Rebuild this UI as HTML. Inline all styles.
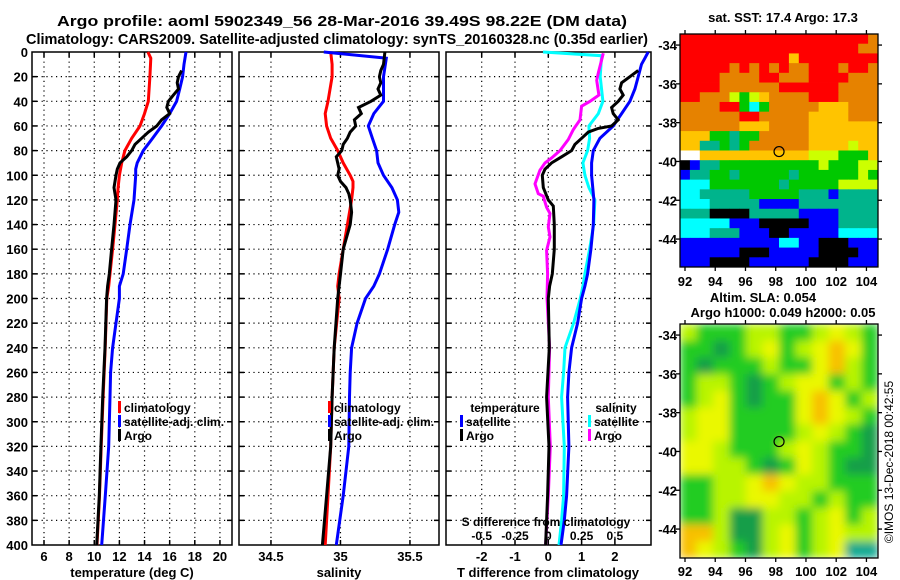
<!DOCTYPE html>
<html><head><meta charset="utf-8">
<style>
html,body{margin:0;padding:0;background:#fff;}
svg{display:block;font-family:"Liberation Sans",Arial,sans-serif;font-weight:bold;}
</style></head>
<body>
<svg id="chart" width="900" height="580" viewBox="0 0 900 580" xmlns="http://www.w3.org/2000/svg">
<defs>
<filter id="blur" x="0" y="0" width="1" height="1"><feGaussianBlur stdDeviation="4.5" edgeMode="duplicate"/></filter>
<clipPath id="clip2"><rect x="680" y="324" width="198" height="234"/></clipPath>
</defs>
<text x="57" y="26" font-size="15" textLength="570" lengthAdjust="spacingAndGlyphs">Argo profile: aoml 5902349_56 28-Mar-2016 39.49S 98.22E (DM data)</text>
<text x="26" y="44" font-size="15" textLength="622" lengthAdjust="spacingAndGlyphs">Climatology: CARS2009. Satellite-adjusted climatology: synTS_20160328.nc (0.35d earlier)</text>
<g id="g"></g>
</svg>
<script>
// ---- profile data ----
const depthTicks=[0,20,40,60,80,100,120,140,160,180,200,220,240,260,280,300,320,340,360,380,400];
const tempTicks=[6,8,10,12,14,16,18,20];
const salTicks=[34.5,35,35.5];
const diffTicks=[-2,-1,0,1,2];
const sdiffTicks=[-0.5,-0.25,0,0.25,0.5];
const sdiffLabels=["-0.5","-0.25","0","0.25","0.5"];

const climTdepth=[0,5,20,40,50,60,70,80,90,100,110,120,140,160,180,190,200,240,280,320,360,400];
const climT=[14.27,14.5,14.43,14.3,14.0,13.64,12.98,12.44,12.18,12.0,11.9,11.83,11.65,11.46,11.25,11.15,11.0,10.87,10.7,10.55,10.42,10.22];
const satTdepth=[0,10,20,30,40,50,60,70,80,90,95,100,120,140,160,180,190,200,220,240,260,280,320,360,400];
const satT=[17.3,17.14,17.03,16.8,16.55,16.0,15.36,14.64,13.9,13.42,13.3,13.3,13.16,12.84,12.58,12.3,12.0,12.0,11.73,11.46,11.3,11.25,11.15,10.88,10.59];
const argoTdepth=[15,20,25,30,35,40,45,50,55,60,65,70,75,80,85,90,95,100,110,120,140,160,180,190,200,240,280,320,360,400];
const argoT=[16.95,16.7,16.6,16.7,16.3,15.9,15.77,16.0,15.36,14.97,14.3,13.77,13.24,12.98,12.58,12.05,11.83,11.73,11.57,11.73,11.57,11.38,11.2,11.06,10.98,10.85,10.67,10.53,10.4,10.19];

const climSdepth=[0,10,20,40,50,60,70,80,90,100,105,110,120,140,160,180,190,200,240,280,320,360,400];
const climS=[34.93,34.94,34.94,34.91,34.89,34.90,34.93,34.98,35.02,35.07,35.09,35.09,35.08,35.05,35.02,34.99,34.98,34.99,34.955,34.94,34.93,34.91,34.89];
const satSdepth=[0,5,20,40,50,60,70,80,90,100,110,120,130,140,160,180,190,200,220,240,260,280,320,360,400];
const satS=[34.88,35.33,35.31,35.31,35.24,35.2,35.23,35.26,35.27,35.31,35.37,35.41,35.42,35.39,35.34,35.28,35.24,35.18,35.12,35.08,35.07,35.065,35.06,35.02,34.97];
const argoSdepth=[0,10,15,20,25,30,35,40,45,50,55,60,65,70,75,80,85,90,95,100,105,110,115,120,130,140,160,180,190,200,240,280,320,360,400];
const argoS=[35.32,35.31,35.29,35.28,35.29,35.27,35.29,35.22,35.13,35.15,35.1,35.11,35.07,35.05,35.02,35.01,34.97,34.98,34.99,34.98,35.0,35.04,35.06,35.07,35.08,35.07,35.02,35.0,34.99,34.98,34.955,34.94,34.93,34.9,34.87];

const satTdiffDepth=[0,5,10,20,30,40,50,60,70,80,90,100,120,140,160,180,190,200,220,240,260,280,320,360,380,400];
const satTdiff=[3.0,2.9,2.8,2.7,2.6,2.45,2.2,1.95,1.55,1.35,1.3,1.3,1.37,1.35,1.28,1.18,1.1,1.0,0.88,0.7,0.62,0.58,0.62,0.55,0.48,0.38];
const argoTdiffDepth=[15,20,25,30,35,40,45,50,55,60,62,65,70,75,80,85,90,95,100,110,120,125,140,160,180,190,200,240,280,320,360,400];
const argoTdiff=[2.7,2.45,2.2,2.15,2.25,2.1,1.9,1.95,2.1,1.9,1.5,1.2,1.0,0.8,0.7,0.4,0.1,-0.1,-0.18,-0.15,0,0.15,0.18,0.18,0.12,0.04,0.0,0.03,-0.05,0.02,-0.02,-0.08];
const satSdiffDepth=[0,3,20,40,50,60,70,80,90,100,110,120,140,160,180,190,200,220,240,260,280,320,360,380,400];
const satSdiff=[-0.04,0.4,0.39,0.41,0.375,0.305,0.31,0.295,0.26,0.275,0.305,0.35,0.34,0.31,0.275,0.26,0.24,0.19,0.125,0.115,0.1,0.12,0.115,0.1,0.08];
const argoSdiffDepth=[1,17,23,35,40,44,55,63,71,80,86,90,96,107,115,117,126,131,142,150,161,180,199,240,280,320,360,400];
const argoSdiff=[0.413,0.375,0.363,0.38,0.313,0.25,0.238,0.188,0.15,0.088,0.025,-0.025,-0.063,-0.1,-0.075,-0.038,-0.013,0.013,0,0.013,-0.013,-0.005,-0.01,0.01,0.0,0.015,0.0,-0.02];

// ---- map data ----
const lonTicks=[92,94,96,98,100,102,104];
const latTicks=[-34,-36,-38,-40,-42,-44];
const argoLon=98.22, argoLat=-39.49;
const sstRows=[
"RRRRRRRRRRRRRRRRRRRO",
"RRRRRRRRRRRRRRRRRROO",
"RRRRRRRRRRRYRRRRRRRR",
"RRRRROROROROORRRORRO",
"RRRROOOORROOORRRROOO",
"RRRROOOOOORRRRRROOOO",
"RROOOLGLYOOOORRROOOO",
"OOOORRGCGOOOOOYYYOOO",
"OOOOOORROOOOOYYYYOOO",
"OOOOOOYYYOOOOYYYYYYY",
"YYYGGTGGOOOOOYYYYYYY",
"YYTTGTGOOOOOOYYYYLYY",
"WWYYYYYYYYYYYLLLGGGY",
"KBTTGGGGGGGGGGLGGGLL",
"BTTGGTGGGGGTGGGGGGLG",
"CCCGGGGGGGTGGGGGLLLL",
"CCTTTTTGGGGGTTTBTTTT",
"CCCTTTTTBBBBTTTTTTTT",
"TTTKKKKTTTTTBBBBTTTT",
"CCCCCBBBKKKKKBBBTTTT",
"CCCTTTBBBKKBBBBBCCCC",
"BBBBBBBBBBCCBBKKKBBB",
"BBBBBBKKKBBBBBKKKKBB",
"BBBKKKKBBBBBBKKKKBBB"];
const slaRows=[
"LGGGLLGGLYLG",
"GGDGLYGLYOYG",
"GDGGGLGGYOLG",
"GLLGDGLYYGLG",
"GLYGDGGYOYGL",
"LYYGGGGYOYLG",
"LYYGGGGLYLGD",
"YYLGGGLYLGGD",
"YYLLGDGYLGDD",
"GGLLYOYLLGGG",
"GGLLYYLLGLGG",
"GGLDDLLGLYGL",
"OOLDDLYGLYLL",
"OYLGDLYGLYTT"];

const NS='http://www.w3.org/2000/svg';
const G=document.getElementById('g');
function mk(tag,attrs,parent){const e=document.createElementNS(NS,tag);for(const k in attrs)e.setAttribute(k,attrs[k]);(parent||G).appendChild(e);return e;}
function txt(s,x,y,size,anchor,parent){const t=mk('text',{x:x,y:y,'font-size':size,'text-anchor':anchor||'start'},parent);t.textContent=s;return t;}

const Y0=52,Y1=545;
const yDepth=d=>Y0+d*(Y1-Y0)/400;

function panel(name,px0,px1,vmin,vmax,gridVals){
  const g=mk('g',{});
  
  
  const sx=v=>px0+(v-vmin)*(px1-px0)/(vmax-vmin);
  gridVals.forEach(v=>{const l=mk('line',{x1:sx(v),x2:sx(v),y1:Y0,y2:Y1,stroke:'#000','stroke-width':1.2,'stroke-dasharray':'1.2 3.6'},g);});
  depthTicks.forEach(d=>{if(d===0||d===400)return;const l=mk('line',{x1:px0,x2:px1,y1:yDepth(d),y2:yDepth(d),stroke:'#000','stroke-width':1.2,'stroke-dasharray':'1.2 3.6'},g);
    mk('line',{x1:px0,x2:px0+5,y1:yDepth(d),y2:yDepth(d),stroke:'#000','stroke-width':1.5},g);
    mk('line',{x1:px1-5,x2:px1,y1:yDepth(d),y2:yDepth(d),stroke:'#000','stroke-width':1.5},g);});
  gridVals.forEach(v=>{mk('line',{x1:sx(v),x2:sx(v),y1:Y1-5,y2:Y1,stroke:'#000','stroke-width':1.5},g);mk('line',{x1:sx(v),x2:sx(v),y1:Y0,y2:Y0+5,stroke:'#000','stroke-width':1.5},g);});
  const f=mk('rect',{x:px0,y:Y0,width:px1-px0,height:Y1-Y0,fill:'none',stroke:'#000','stroke-width':1.5},g);
  
  return {g,sx};
}
function line(p,name,depths,vals,color,scale){
  const pts=depths.map((d,i)=>(p.sx(vals[i]*(scale||1))).toFixed(1)+','+yDepth(d).toFixed(1)).join(' ');
  const l=mk('polyline',{points:pts,fill:'none',stroke:color,'stroke-width':3,'stroke-linejoin':'miter'},p.g);
  
  
}
function legendEntry(p,name,x,y,color,label){
  const g=mk('g',{},p.g);
  
  
  mk('rect',{x:x,y:y-11,width:3,height:12,fill:color},g);
  txt(label,x+6,y,12,'start',g);
}

const ya=mk('g',{});


depthTicks.forEach(d=>txt(String(d),28,yDepth(d)+5,13,'end',ya));

const p1=panel('temperature-panel',32,232,5.045,20.96,tempTicks);
line(p1,'climatology-temperature-line',climTdepth,climT,'#ff0000');
line(p1,'satellite-temperature-line',satTdepth,satT,'#0000ff');
line(p1,'argo-temperature-line',argoTdepth,argoT,'#000000');
tempTicks.forEach(v=>txt(String(v),p1.sx(v),561,13,'middle',p1.g));
txt('temperature (deg C)',132,577,13,'middle',p1.g);
legendEntry(p1,'legend-climatology',118,412,'#ff0000','climatology');
legendEntry(p1,'legend-satellite-adj',118,426,'#0000ff','satellite-adj. clim.');
legendEntry(p1,'legend-argo',118,440,'#000000','Argo');

const p2=panel('salinity-panel',239,439,34.27,35.709,salTicks);
line(p2,'climatology-salinity-line',climSdepth,climS,'#ff0000');
line(p2,'satellite-salinity-line',satSdepth,satS,'#0000ff');
line(p2,'argo-salinity-line',argoSdepth,argoS,'#000000');
salTicks.forEach(v=>txt(String(v),p2.sx(v),561,13,'middle',p2.g));
txt('salinity',339,577,13,'middle',p2.g);
legendEntry(p2,'legend-climatology-s',328,412,'#ff0000','climatology');
legendEntry(p2,'legend-satellite-adj-s',328,426,'#0000ff','satellite-adj. clim.');
legendEntry(p2,'legend-argo-s',328,440,'#000000','Argo');

const p3=panel('difference-panel',446,651,-3.072,3.084,diffTicks);
line(p3,'satellite-salinity-diff-line',satSdiffDepth,satSdiff,'#00ffff',4);
line(p3,'argo-salinity-diff-line',argoSdiffDepth,argoSdiff,'#ff00ff',4);
line(p3,'satellite-temperature-diff-line',satTdiffDepth,satTdiff,'#0000ff');
line(p3,'argo-temperature-diff-line',argoTdiffDepth,argoTdiff,'#000000');
diffTicks.forEach(v=>txt(String(v),p3.sx(v),561,13,'middle',p3.g));
txt('T difference from climatology',548,577,13,'middle',p3.g);
txt('S difference from climatology',546,526,12,'middle',p3.g);
sdiffTicks.forEach((v,i)=>txt(sdiffLabels[i],p3.sx(v*4),540,12,'middle',p3.g));
txt('temperature',505,412,12,'middle',p3.g);
legendEntry(p3,'legend-temp-satellite',460,426,'#0000ff','satellite');
legendEntry(p3,'legend-temp-argo',460,440,'#000000','Argo');
txt('salinity',616,412,12,'middle',p3.g);
legendEntry(p3,'legend-sal-satellite',588,426,'#00ffff','satellite');
legendEntry(p3,'legend-sal-argo',588,440,'#ff00ff','Argo');

const sstCol={R:'#ff0000',O:'#e68200',Y:'#ffc400',L:'#ccff00',G:'#00c800',T:'#00b48c',C:'#00ffff',B:'#0000ff',K:'#000000',W:'#ffffff'};
const slaCol={G:'#22cc22',D:'#129e4a',L:'#b8f400',Y:'#eaf800',O:'#f8c000',T:'#10a890'};
function mapAxes(name,x0,y0,w,h,latTop){
  const g=mk('g',{});
  
  
  const lx=lon=>685+(lon-92)*15.12;
  const ly=lat=>y0+(latTop-lat)*19.4;
  return {g,lx,ly,x0,y0,w,h};
}
function mapFrame(m,labY){
  lonTicks.forEach(v=>{mk('line',{x1:m.lx(v),x2:m.lx(v),y1:m.y0+m.h,y2:m.y0+m.h+4,stroke:'#000','stroke-width':1.3},m.g);mk('line',{x1:m.lx(v),x2:m.lx(v),y1:m.y0-4,y2:m.y0,stroke:'#000','stroke-width':1.3},m.g);txt(String(v),m.lx(v),labY,13,'middle',m.g);});
  latTicks.forEach(v=>{const y=m.ly(v);mk('line',{x1:m.x0-4,x2:m.x0,y1:y,y2:y,stroke:'#000','stroke-width':1.3},m.g);mk('line',{x1:m.x0+m.w,x2:m.x0+m.w+4,y1:y,y2:y,stroke:'#000','stroke-width':1.3},m.g);txt(String(v),m.x0-3,y+5,13,'end',m.g);});
  mk('rect',{x:m.x0,y:m.y0,width:m.w,height:m.h,fill:'none',stroke:'#000','stroke-width':1.3},m.g);
  const c=mk('circle',{cx:m.lx(argoLon),cy:m.ly(argoLat),r:5,fill:'none',stroke:'#000','stroke-width':1.2},m.g);
  
  
}
const m1=mapAxes('sst-map',680,34,198,233,-33.43);
const cw1=198/20, ch1=233/24;
sstRows.forEach((row,r)=>{for(let c=0;c<row.length;c++){const cell=mk('rect',{x:680+c*cw1,y:34+r*ch1,width:cw1+0.4,height:ch1+0.4,fill:sstCol[row[c]]},m1.g);}});
mapFrame(m1,286);
txt('sat. SST: 17.4 Argo: 17.3',783,22,13,'middle',m1.g);

const m2=mapAxes('sla-map',680,324,198,234,-33.43);
const cg=mk('g',{'clip-path':'url(#clip2)'},m2.g);
const bg=mk('g',{filter:'url(#blur)'},cg);
const cw2=198/12, ch2=234/14;
slaRows.forEach((row,r)=>{for(let c=0;c<row.length;c++){const cell=mk('rect',{x:680+c*cw2,y:324+r*ch2,width:cw2+0.4,height:ch2+0.4,fill:slaCol[row[c]]},bg);}});
mapFrame(m2,576);
txt('Altim. SLA: 0.054',763,302,13,'middle',m2.g);
txt('Argo h1000: 0.049 h2000: 0.05',783,317,13,'middle',m2.g);
const cr=txt('©IMOS 13-Dec-2018 00:42:55',0,0,12,'middle');
cr.setAttribute('transform','translate(893,462) rotate(-90)');
cr.setAttribute('font-weight','normal');


</script>
</body></html>
